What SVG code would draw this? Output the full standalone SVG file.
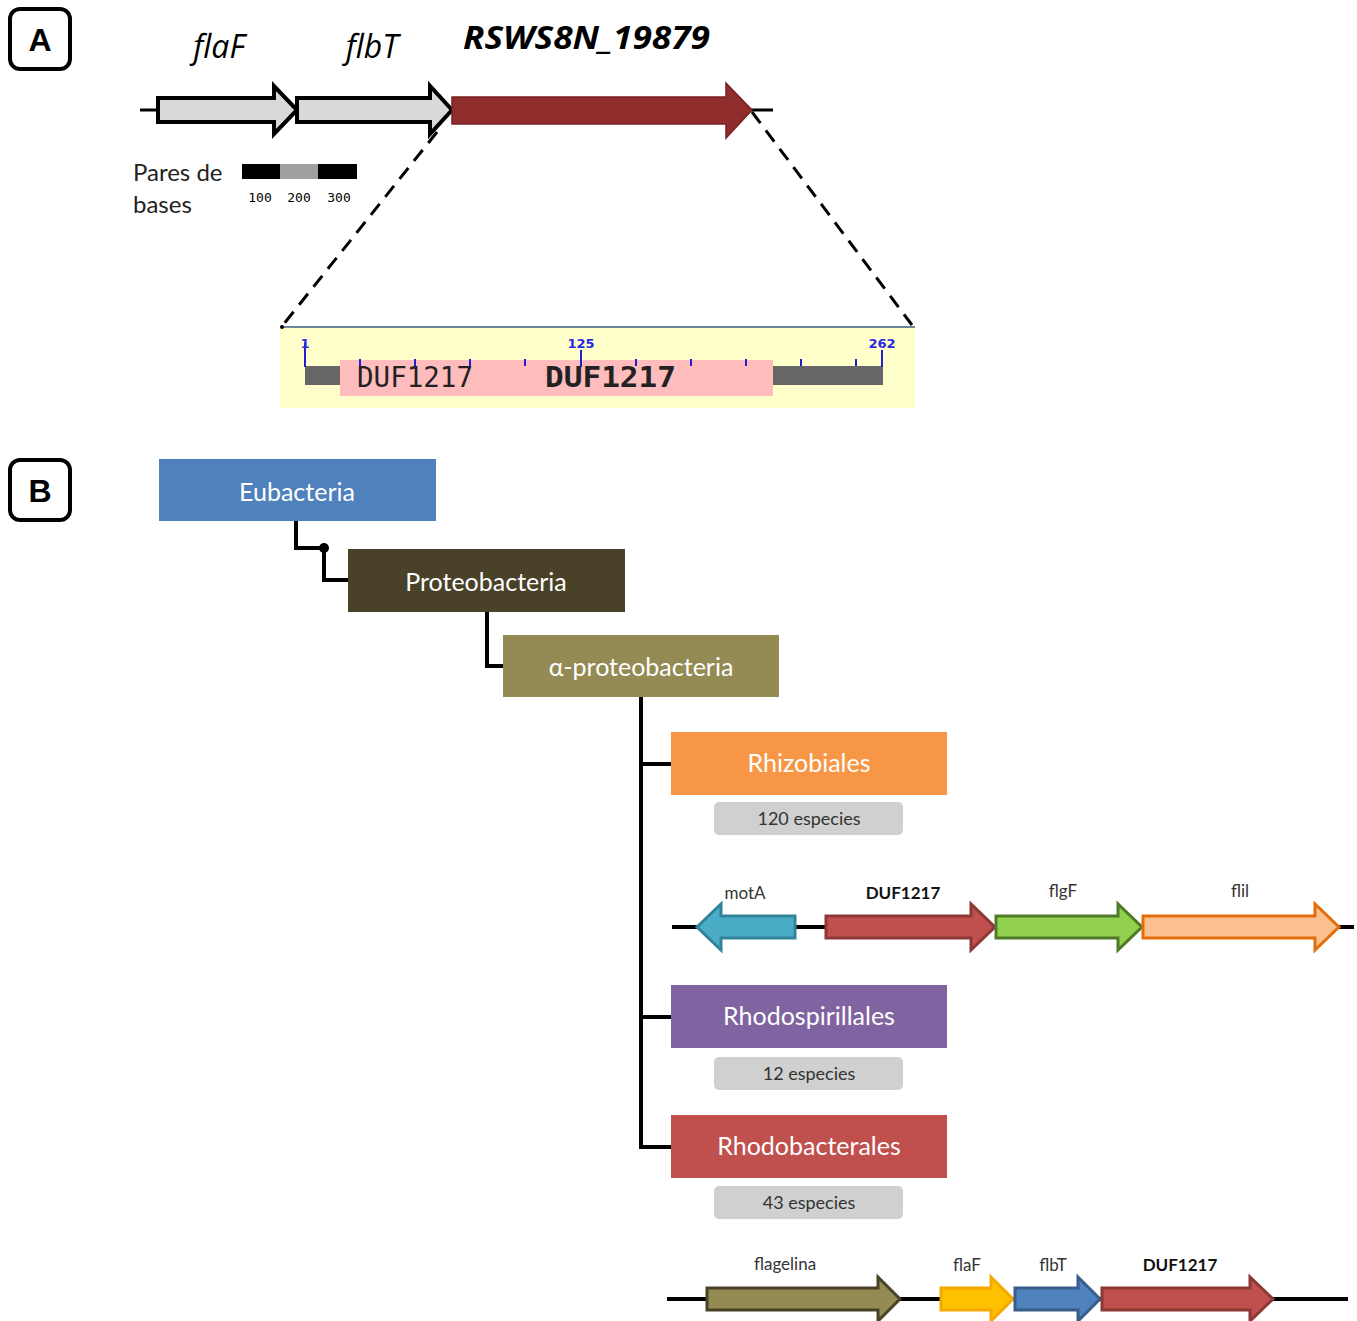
<svg xmlns="http://www.w3.org/2000/svg" width="1357" height="1321" viewBox="0 0 1357 1321">
<style>
.lbl{font-family:"Liberation Sans",Arial,sans-serif;font-weight:bold;font-size:32px;text-anchor:middle}
.panel{fill:none;stroke:#000;stroke-width:4}
.gene{font-family:"Open Sans","Noto Sans",sans-serif;font-style:italic;font-size:32px;text-anchor:middle}
.box{font-family:Lato,"Open Sans",sans-serif;font-size:25px;fill:#fff;text-anchor:middle}
.cnt{font-family:Lato,"Open Sans",sans-serif;font-size:18px;fill:#333;text-anchor:middle}
.cntbox{fill:#d0d0d0}
.conn{fill:none;stroke:#000;stroke-width:4}
.og{font-family:Lato,"Open Sans",sans-serif;font-size:17px;fill:#333;text-anchor:middle}
.ogb{font-family:Lato,"Open Sans",sans-serif;font-size:17px;font-weight:bold;fill:#111;text-anchor:middle}
.tick{stroke:#2020d0;stroke-width:2}
.num{font-family:"DejaVu Sans",sans-serif;font-size:13px;fill:#2a2ae0;font-weight:bold;text-anchor:middle}
.duf{font-family:"DejaVu Sans Mono","Liberation Mono",monospace;font-size:28px;fill:#222}
</style>

<g id="panel-A-label">
<rect class="panel" x="10" y="9" width="60" height="60" rx="10"/>
<text class="lbl" x="40" y="51">A</text>
</g>
<g id="panel-B-label">
<rect class="panel" x="10" y="460" width="60" height="60" rx="10"/>
<text class="lbl" x="40" y="502">B</text>
</g>

<g id="locus-A">
<line x1="140" y1="110" x2="160" y2="110" stroke="#000" stroke-width="3"/>
<line x1="750" y1="110" x2="773" y2="110" stroke="#000" stroke-width="3"/>
<polygon id="flaF-A" points="158,98 274,98 274,86 297,110 274,134 274,122 158,122" fill="#d9d9d9" stroke="#000" stroke-width="4"/>
<polygon id="flbT-A" points="297,98 430,98 430,86 452,110 430,134 430,122 297,122" fill="#d9d9d9" stroke="#000" stroke-width="4"/>
<polygon id="RSWS8N-A" points="452,97 726,97 726,83 752,110 726,138 726,124 452,124" fill="#8f2c2c" stroke="#7a2020" stroke-width="1.5"/>
<text class="gene" x="219" y="58">flaF</text>
<text class="gene" x="372" y="58">flbT</text>
<text x="463" y="49" font-family="'Open Sans','Noto Sans',sans-serif" font-style="italic" font-weight="bold" font-size="33" textLength="247" lengthAdjust="spacingAndGlyphs">RSWS8N_19879</text>
</g>

<g id="scale-bar">
<text x="133" y="181" font-family="Lato,'Open Sans',sans-serif" font-size="24" fill="#222">Pares de</text>
<text x="133" y="213" font-family="Lato,'Open Sans',sans-serif" font-size="24" fill="#222">bases</text>
<rect x="242" y="164" width="38" height="15" fill="#000"/>
<rect x="280" y="164" width="38" height="15" fill="#a0a0a0"/>
<rect x="318" y="164" width="39" height="15" fill="#000"/>
<text x="260" y="202" font-family="'DejaVu Sans Mono',monospace" font-size="13" text-anchor="middle">100</text>
<text x="299" y="202" font-family="'DejaVu Sans Mono',monospace" font-size="13" text-anchor="middle">200</text>
<text x="339" y="202" font-family="'DejaVu Sans Mono',monospace" font-size="13" text-anchor="middle">300</text>
</g>

<g id="zoom-lines">
<line x1="437" y1="132" x2="283" y2="325" stroke="#000" stroke-width="3" stroke-dasharray="14,9"/>
<line x1="752" y1="112" x2="912" y2="325" stroke="#000" stroke-width="3" stroke-dasharray="14,9"/>
</g>

<g id="domain-panel">
<rect x="280" y="328" width="635" height="80" fill="#ffffcc"/>
<line x1="281" y1="327" x2="915" y2="327" stroke="#3a5a7a" stroke-width="1.5"/>
<circle cx="282" cy="327" r="2" fill="#000"/>
<rect x="305" y="366" width="578" height="19" fill="#666"/>
<rect x="340" y="360" width="433" height="36" fill="#ffbcbc"/>
<line class="tick" x1="305" y1="343" x2="305" y2="367"/>
<line class="tick" x1="581" y1="350" x2="581" y2="367"/>
<line class="tick" x1="882" y1="350" x2="882" y2="367"/>
<line class="tick" x1="360" y1="359" x2="360" y2="366"/>
<line class="tick" x1="415" y1="359" x2="415" y2="366"/>
<line class="tick" x1="470" y1="359" x2="470" y2="366"/>
<line class="tick" x1="525" y1="359" x2="525" y2="366"/>
<line class="tick" x1="636" y1="359" x2="636" y2="366"/>
<line class="tick" x1="691" y1="359" x2="691" y2="366"/>
<line class="tick" x1="746" y1="359" x2="746" y2="366"/>
<line class="tick" x1="801" y1="359" x2="801" y2="366"/>
<line class="tick" x1="856" y1="359" x2="856" y2="366"/>
<text class="num" x="305" y="348">1</text>
<text class="num" x="581" y="348">125</text>
<text class="num" x="882" y="348">262</text>
<text class="duf" x="357" y="387" textLength="116" lengthAdjust="spacingAndGlyphs">DUF1217</text>
<text class="duf" x="545" y="387" font-weight="bold" textLength="131" lengthAdjust="spacingAndGlyphs">DUF1217</text>
</g>

<g id="connectors">
<polyline class="conn" points="296,521 296,548 324,548 324,580 348,580"/>
<circle cx="324" cy="548" r="5" fill="#000"/>
<polyline class="conn" points="487,612 487,666 503,666"/>
<polyline class="conn" points="641,697 641,1147 671,1147"/>
<line class="conn" x1="641" y1="764" x2="671" y2="764"/>
<line class="conn" x1="641" y1="1017" x2="671" y2="1017"/>
</g>

<g id="node-eubacteria">
<rect x="159" y="459" width="277" height="62" fill="#4f81bd"/>
<text class="box" x="297" y="501" font-size="28">Eubacteria</text>
</g>
<g id="node-proteobacteria">
<rect x="348" y="549" width="277" height="63" fill="#4a4228"/>
<text class="box" x="486" y="591" font-size="28">Proteobacteria</text>
</g>
<g id="node-alpha">
<rect x="503" y="635" width="276" height="62" fill="#948a54"/>
<text class="box" x="641" y="676" font-size="24">α-proteobacteria</text>
</g>
<g id="node-rhizobiales">
<rect x="671" y="732" width="276" height="63" fill="#f79646"/>
<text class="box" x="809" y="772" font-size="24">Rhizobiales</text>
<rect class="cntbox" x="714" y="802" width="189" height="33" rx="5"/>
<text class="cnt" x="809" y="825">120 especies</text>
</g>
<g id="node-rhodospirillales">
<rect x="671" y="985" width="276" height="63" fill="#8064a2"/>
<text class="box" x="809" y="1025" font-size="24">Rhodospirillales</text>
<rect class="cntbox" x="714" y="1057" width="189" height="33" rx="5"/>
<text class="cnt" x="809" y="1080">12 especies</text>
</g>
<g id="node-rhodobacterales">
<rect x="671" y="1115" width="276" height="63" fill="#c0504d"/>
<text class="box" x="809" y="1155" font-size="24">Rhodobacterales</text>
<rect class="cntbox" x="714" y="1186" width="189" height="33" rx="5"/>
<text class="cnt" x="809" y="1209">43 especies</text>
</g>

<g id="operon-rhizobiales">
<line x1="672" y1="927" x2="1354" y2="927" stroke="#000" stroke-width="4"/>
<polygon points="795,916 721,916 721,904 697,927 721,950 721,938 795,938" fill="#4bacc6" stroke="#31849b" stroke-width="3"/>
<polygon points="826,916 971,916 971,904 995,927 971,950 971,938 826,938" fill="#c0504d" stroke="#8c3836" stroke-width="3"/>
<polygon points="996,916 1118,916 1118,904 1142,927 1118,950 1118,938 996,938" fill="#92d050" stroke="#4f7a28" stroke-width="3"/>
<polygon points="1143,916 1315,916 1315,904 1339,927 1315,950 1315,938 1143,938" fill="#fac090" stroke="#e46c0a" stroke-width="3"/>
<text class="og" x="745" y="899">motA</text>
<text class="ogb" x="903" y="899">DUF1217</text>
<text class="og" x="1063" y="897">flgF</text>
<text class="og" x="1240" y="897">flil</text>
</g>

<g id="operon-rhodobacterales">
<line x1="667" y1="1299" x2="1348" y2="1299" stroke="#000" stroke-width="4"/>
<polygon points="707,1288 878,1288 878,1277 900,1299 878,1321 878,1310 707,1310" fill="#948a54" stroke="#4a4228" stroke-width="3"/>
<polygon points="941,1288 991,1288 991,1277 1013,1299 991,1321 991,1310 941,1310" fill="#ffc000" stroke="#f5a800" stroke-width="3"/>
<polygon points="1015,1288 1078,1288 1078,1277 1100,1299 1078,1321 1078,1310 1015,1310" fill="#4f81bd" stroke="#385d8a" stroke-width="3"/>
<polygon points="1102,1288 1250,1288 1250,1277 1273,1299 1250,1321 1250,1310 1102,1310" fill="#c0504d" stroke="#8c3836" stroke-width="3"/>
<text class="og" x="785" y="1270">flagelina</text>
<text class="og" x="967" y="1271">flaF</text>
<text class="og" x="1053" y="1271">flbT</text>
<text class="ogb" x="1180" y="1271">DUF1217</text>
</g>
</svg>
